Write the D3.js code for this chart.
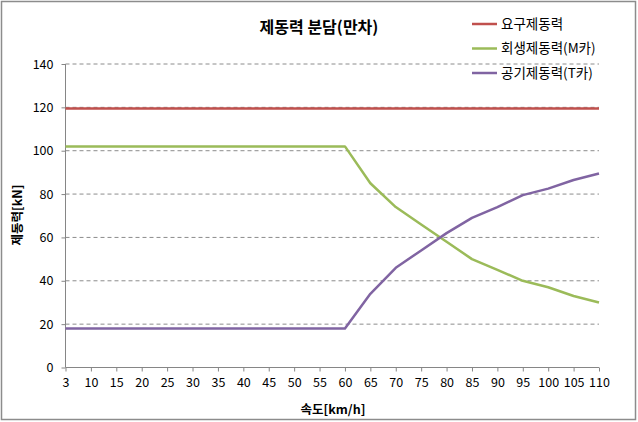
<!DOCTYPE html>
<html><head><meta charset="utf-8">
<script src="https://cdn.jsdelivr.net/npm/d3@7"></script>
<style>body{margin:0;background:#fff}svg{display:block}text{font-family:"Noto Sans CJK KR","Noto Sans",sans-serif}</style>
</head><body><svg id="c" width="638" height="422"></svg>
<script>
const categories = [3,10,15,20,25,30,35,40,45,50,55,60,65,70,75,80,85,90,95,100,105,110];
const required = [119.5,119.5,119.5,119.5,119.5,119.5,119.5,119.5,119.5,119.5,119.5,119.5,119.5,119.5,119.5,119.5,119.5,119.5,119.5,119.5,119.5,119.5];
const regen = [102,102,102,102,102,102,102,102,102,102,102,102,85,74,66,58,50,45,40,37,33,30];
const air = [18,18,18,18,18,18,18,18,18,18,18,18,34,46,54,62,69,74,79.5,82.5,86.5,89.5];
const yTicks = [0,20,40,60,80,100,120,140];
const seriesNames = ["요구제동력","회생제동력(M카)","공기제동력(T카)"];
const colors = ["#C0504D","#9BBB59","#8064A2"];

const svg = d3.select("#c");
svg.append("rect").attr("x",1.5).attr("y",1.5).attr("width",634).attr("height",418)
  .attr("fill","#fff").attr("stroke","#8c8c8c").attr("stroke-width",1.5);

const L=65.5, R=599, T=64, B=367.5;
const x = d3.scalePoint().domain(categories).range([L,R]);
const y = d3.scaleLinear().domain([0,140]).range([B,T]);

// gridlines
svg.append("g").selectAll("line").data(yTicks.filter(d=>d>0)).join("line")
  .attr("x1",L).attr("x2",R).attr("y1",d=>y(d)).attr("y2",d=>y(d))
  .attr("stroke","#8c8c8c").attr("stroke-dasharray","4,3").attr("stroke-width",1);

// y axis
const ya = svg.append("g").attr("transform",`translate(${L},0)`)
  .call(d3.axisLeft(y).tickValues(yTicks).tickSize(4).tickPadding(8));
ya.select(".domain").attr("stroke","#868686").attr("d",`M-0,${T}V${B}`);
ya.selectAll(".tick line").attr("stroke","#868686");
ya.selectAll("text").attr("font-size","12.5px").attr("fill","#000");

// x axis
const xa = svg.append("g").attr("transform",`translate(0,${B})`)
  .call(d3.axisBottom(x).tickSize(4).tickPadding(7));
xa.select(".domain").attr("stroke","#868686").attr("d",`M${L},0H${R}`);
xa.selectAll(".tick line").attr("stroke","#868686");
xa.selectAll("text").attr("font-size","12.5px").attr("fill","#000");

// lines
const line = d3.line().x((d,i)=>x(categories[i])).y(d=>y(d));
[required,regen,air].forEach((s,k)=>{
  svg.append("path").datum(s).attr("d",line).attr("fill","none")
    .attr("stroke",colors[k]).attr("stroke-width",2.5).attr("stroke-linejoin","round");
});

// title
svg.append("text").attr("x",319).attr("y",33).attr("text-anchor","middle")
  .attr("font-size","16px").attr("font-weight","bold").text("제동력 분담(만차)");

// axis titles
svg.append("text").attr("x",333).attr("y",414).attr("text-anchor","middle")
  .attr("font-size","12.5px").attr("font-weight","bold").text("속도[km/h]");
svg.append("text").attr("transform","translate(22,215) rotate(-90)").attr("text-anchor","middle")
  .attr("font-size","12.5px").attr("font-weight","bold").text("제동력[kN]");

// legend
const lg = svg.append("g");
seriesNames.forEach((n,i)=>{
  const yy = 24 + i*24.5;
  lg.append("line").attr("x1",472).attr("x2",497).attr("y1",yy).attr("y2",yy)
    .attr("stroke",colors[i]).attr("stroke-width",2.5);
  lg.append("text").attr("x",501).attr("y",yy+4.5).attr("font-size","13.5px").text(n);
});
</script></body></html>
